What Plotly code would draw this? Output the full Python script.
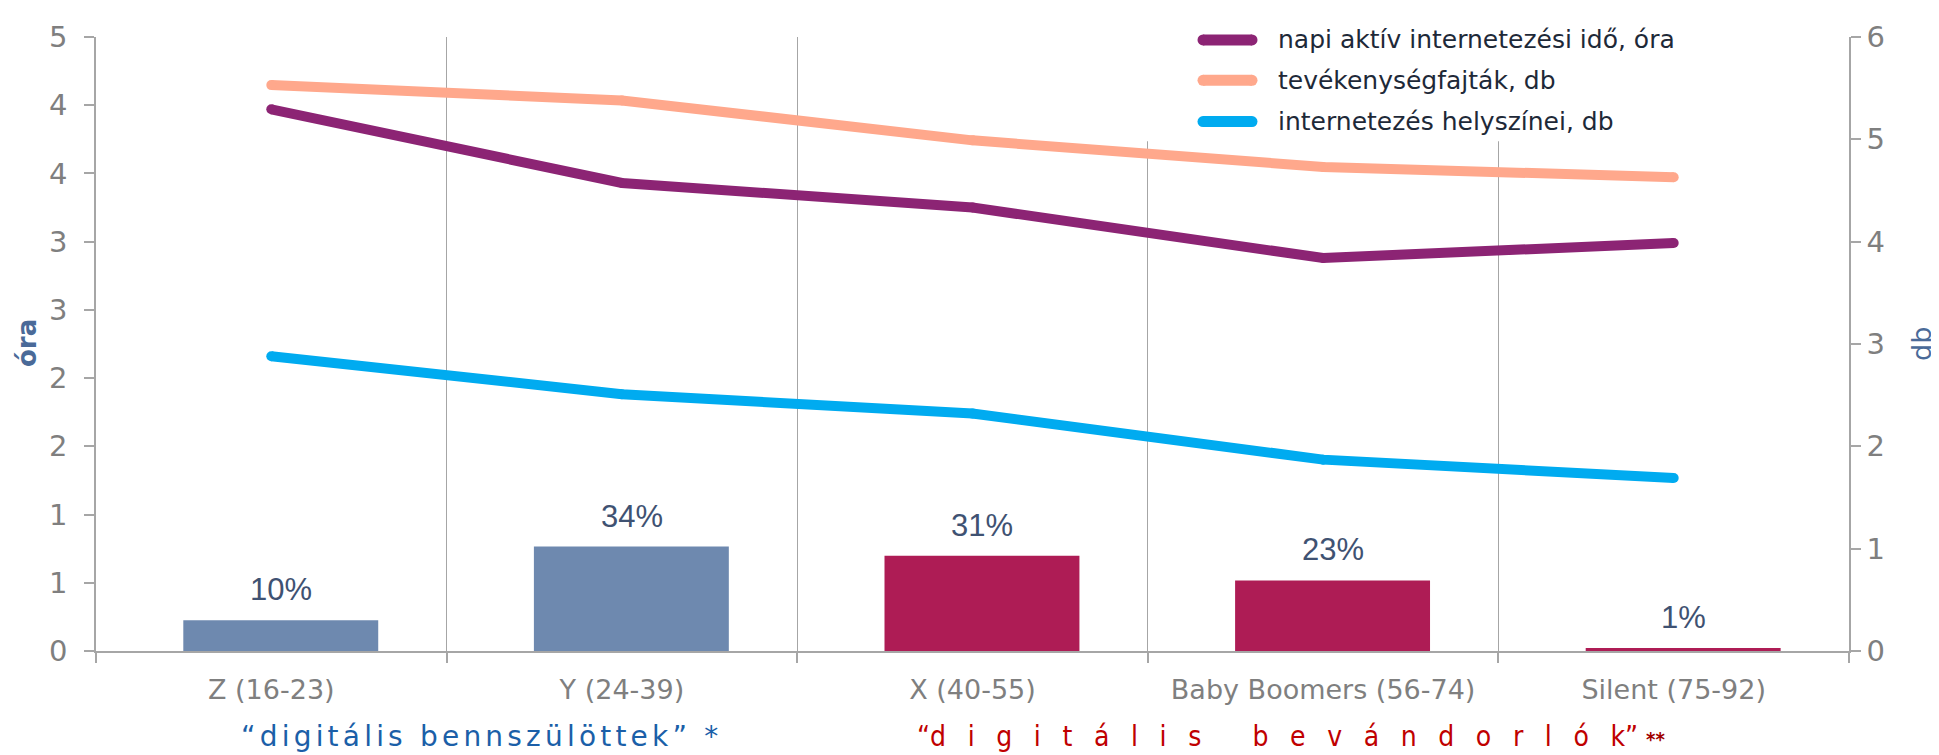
import plotly.graph_objects as go

# generations (x categories)
categories = ["Z (16-23)", "Y (24-39)", "X (40-55)", "Baby Boomers (56-74)", "Silent (75-92)"]

# share of each generation (bars, labelled in %)
share = [0.10, 0.34, 0.31, 0.23, 0.01]

# lines
daily_hours = [3.97, 3.43, 3.25, 2.88, 2.99]      # left axis, óra
activity_types = [5.53, 5.38, 4.99, 4.73, 4.63]   # right axis, db
locations = [2.88, 2.51, 2.32, 1.87, 1.69]        # right axis, db

series_names = ["napi aktív internetezési idő, óra", "tevékenységfajták, db", "internetezés helyszínei, db"]

# left axis goes in half steps but the labels are rounded
left_tick_vals = [0, 0.5, 1, 1.5, 2, 2.5, 3, 3.5, 4, 4.5]
left_tick_labels = ["0", "1", "1", "2", "2", "3", "3", "4", "4", "5"]
right_tick_vals = [0, 1, 2, 3, 4, 5, 6]

# styling
bar_colors = ["#6E89AF", "#6E89AF", "#AE1C55", "#AE1C55", "#AE1C55"]
line_colors = ["#8C2474", "#FFA88C", "#00ABF0"]
GRAY = "#A6A6A6"
TICK_GRAY = "#7F7F7F"
TITLE_BLUE = "#4A6A98"
FONT = "DejaVu Sans"

# the page body has an 8px margin, so work in figure pixels = screen - 8
OFF = 8
W, H = 1939 - OFF, 755 - OFF
L, R, T, B = 96 - OFF, 1849 - OFF, 27 - OFF, 651 - OFF


def px(xs):
    # screen x -> paper
    return (xs - OFF - L) / (R - L)


def py(ys):
    # screen y -> paper
    return (B - (ys - OFF)) / (B - T)


fig = go.Figure()

# bars on a hidden third axis
fig.add_trace(go.Bar(
    x=categories, y=share, yaxis="y3",
    marker=dict(color=bar_colors, line=dict(width=0)),
    width=0.556, offset=-0.251,
    showlegend=False, hoverinfo="skip",
))

for vals, name, col, ax in zip([daily_hours, activity_types, locations], series_names, line_colors, ["y", "y2", "y2"]):
    fig.add_trace(go.Scatter(
        x=categories, y=vals, yaxis=ax, name=name,
        mode="lines+markers",
        line=dict(color=col, width=10),
        marker=dict(color=col, size=10),
        showlegend=False,
    ))

annotations = []

# bar value labels
for c, v in zip(categories, share):
    annotations.append(dict(
        x=c, y=v, xref="x", yref="y3", text=f"{v:.0%}", showarrow=False,
        yanchor="bottom", yshift=11, xshift=9.6,
        font=dict(family="Liberation Sans", size=31, color="#3F5272"),
    ))

# legend drawn by hand (long rounded samples), white box hides the grid behind it
shapes = [dict(type="rect", xref="paper", yref="paper", layer="above",
               x0=px(1080), x1=px(1700), y0=py(133), y1=1.0,
               fillcolor="white", line=dict(width=0))]
legend_rows = [30, 71, 113]
for name, col, yr in zip(series_names, line_colors, legend_rows):
    shapes.append(dict(type="line", xref="paper", yref="paper", layer="above",
                       x0=px(1203), x1=px(1252), y0=py(yr), y1=py(yr),
                       line=dict(color=col, width=11)))
    for xe in (1203, 1252):
        shapes.append(dict(type="circle", xref="paper", yref="paper", layer="above",
                           xsizemode="pixel", ysizemode="pixel",
                           xanchor=px(xe), yanchor=py(yr),
                           x0=-5.5, x1=5.5, y0=-5.5, y1=5.5,
                           fillcolor=col, line=dict(width=0)))
    annotations.append(dict(
        x=px(1276), y=py(yr), xref="paper", yref="paper", text=name,
        showarrow=False, xanchor="left", yanchor="middle",
        font=dict(family=FONT, size=25, color="#1E2938"),
    ))

# group captions under the axis
annotations.append(dict(
    x=px(239), y=py(738), xref="paper", yref="paper",
    text="<span style='letter-spacing:4.2px'>“digitális bennszülöttek” *</span>",
    showarrow=False, xanchor="left", yanchor="middle",
    font=dict(family=FONT, size=28, color="#1B5FA8"),
))
annotations.append(dict(
    x=px(915), y=py(738), xref="paper", yref="paper",
    text="“<span style='letter-spacing:21.6px'>digitális bevándorló</span>k” "
         "<span style='font-size:20px;color:#A00000'><b>**</b></span>",
    showarrow=False, xanchor="left", yanchor="middle",
    font=dict(family="DejaVu Sans Condensed", size=28, color="#C00000"),
))

# axis titles
annotations.append(dict(
    x=px(27), y=py(338), xref="paper", yref="paper", text="<b>óra</b>",
    showarrow=False, textangle=-90, xanchor="center", yanchor="middle",
    font=dict(family=FONT, size=26, color=TITLE_BLUE),
))
annotations.append(dict(
    x=px(1921), y=py(339), xref="paper", yref="paper", text="db",
    showarrow=False, textangle=-90, xanchor="center", yanchor="middle",
    font=dict(family=FONT, size=27, color=TITLE_BLUE),
))

fig.update_layout(
    width=W, height=H,
    margin=dict(l=L, r=W - R, t=T, b=H - B),
    paper_bgcolor="white", plot_bgcolor="white",
    font=dict(family=FONT, color=TICK_GRAY),
    showlegend=False,
    shapes=shapes,
    annotations=annotations,
    xaxis=dict(
        type="category", range=[-0.5, 4.5],
        tickson="boundaries", ticks="outside", ticklen=10, tickcolor=GRAY, tickwidth=1.5,
        showgrid=True, gridcolor=GRAY, gridwidth=1,
        showline=True, linecolor=GRAY, linewidth=2,
        ticklabelstandoff=14,
        tickfont=dict(size=27, color=TICK_GRAY),
    ),
    yaxis=dict(
        range=[0, 4.5], tickvals=left_tick_vals, ticktext=left_tick_labels,
        showgrid=False, zeroline=False,
        showline=True, linecolor=GRAY, linewidth=1.5,
        ticks="outside", ticklen=10, tickcolor=GRAY, tickwidth=1.5,
        ticklabelstandoff=11,
        tickfont=dict(size=29, color=TICK_GRAY),
    ),
    yaxis2=dict(
        range=[0, 6], tickvals=right_tick_vals, overlaying="y", side="right",
        showgrid=False, zeroline=False,
        showline=True, linecolor=GRAY, linewidth=1.5,
        ticks="outside", ticklen=10, tickcolor=GRAY, tickwidth=1.5,
        tickfont=dict(size=29, color=TICK_GRAY),
    ),
    yaxis3=dict(range=[0, 2], overlaying="y", visible=False),
)

fig.write_html("out.html")
